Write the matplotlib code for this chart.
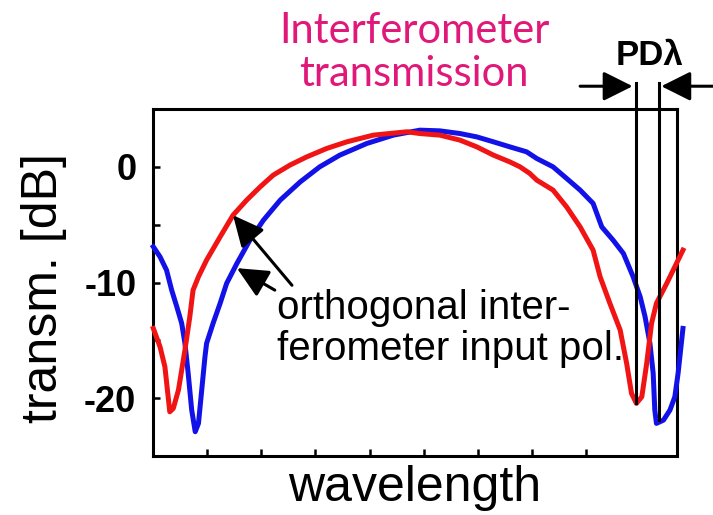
import matplotlib
matplotlib.use("Agg")
import matplotlib.pyplot as plt

# ---------------- data ----------------
blue_x = [0.006, 0.13, 0.25, 0.345, 0.44, 0.53, 0.59, 0.65, 0.715, 0.78, 0.84, 0.90, 0.96,
          0.99, 1.11, 1.24, 1.36, 1.55, 1.79, 2.04, 2.35, 2.72, 3.08, 3.45, 3.95, 4.44,
          4.93, 5.30, 5.67, 5.98, 6.29, 6.59, 6.90, 7.09, 7.39, 7.64, 7.89, 8.13, 8.29,
          8.50, 8.69, 8.87, 9.00, 9.09, 9.18, 9.24, 9.27, 9.30, 9.43, 9.55, 9.64, 9.70,
          9.76, 9.79]
blue_y = [-6.91, -7.78, -8.93, -10.66, -12.1, -13.53, -15.26, -17.86, -21.03, -22.9, -22.18,
          -19.3, -16.42, -15.26, -13.53, -11.8, -10.08, -8.35, -6.34, -4.61, -2.88, -1.3,
          0.0, 1.01, 2.02, 2.74, 3.17, 3.11, 2.88, 2.59, 2.16, 1.73, 1.30, 0.72, 0.0,
          -1.0, -2.01, -3.16, -5.19, -6.34, -7.49, -9.51, -11.24, -12.96, -15.26, -17.86,
          -21.03, -22.18, -21.9, -21.03, -19.88, -17.86, -15.26, -13.97]

red_x = [0.006, 0.13, 0.22, 0.31, 0.375, 0.47, 0.53, 0.59, 0.68, 0.74, 0.84, 0.99, 1.24,
         1.48, 1.73, 1.98, 2.22, 2.53, 2.84, 3.21, 3.58, 4.07, 4.69, 4.93, 5.30, 5.67,
         5.98, 6.29, 6.59, 6.78, 6.96, 7.09, 7.39, 7.64, 7.89, 8.13, 8.26, 8.44, 8.63,
         8.75, 8.84, 8.93, 9.03, 9.12, 9.21, 9.30, 9.49, 9.67, 9.79]
red_y = [-13.97, -15.56, -17.29, -21.18, -20.88, -19.3, -17.57, -15.84, -12.96, -10.66,
         -9.5, -8.06, -6.05, -4.17, -2.88, -1.73, -0.72, 0.15, 0.86, 1.59, 2.16, 2.74,
         3.03, 2.88, 2.74, 2.31, 1.73, 1.01, 0.43, 0.0, -0.57, -1.15, -2.01, -3.46,
         -5.19, -7.2, -9.51, -11.8, -14.11, -17.0, -19.59, -20.45, -19.88, -17.0, -13.53,
         -11.8, -10.08, -8.35, -7.2]

y_ticks = [-20, -15, -10, -5, 0]
y_tick_labels = ["-20", "", "-10", "", "0"]
x_ticks = [1, 2, 3, 4, 5, 6, 7, 8]

pd_x = [8.93, 9.35]          # PD-lambda marker lines
pd_bottom = [-20.4, -21.9]   # where the marker lines end (at the minima)

title_text = "Interferometer\ntransmission"
annot_text = "orthogonal inter-\nferometer input pol."

# ---------------- figure ----------------
W, H = 713, 515
fig = plt.figure(figsize=(W / 100, H / 100), dpi=100)
ax = fig.add_axes([153 / W, 1 - 456 / H, (677 - 153) / W, (456 - 109) / H])

ax.plot(blue_x, blue_y, color="#1212E8", lw=3.6, clip_on=False, solid_joinstyle="round", zorder=3)
ax.plot(red_x, red_y, color="#F01414", lw=3.6, clip_on=False, solid_joinstyle="round", zorder=4)

ax.set_xlim(0, 9.68)
ax.set_ylim(-25, 5)

ax.set_yticks(y_ticks)
ax.set_yticklabels(y_tick_labels, fontfamily="Liberation Sans", fontweight="bold", fontsize=26)
ax.set_xticks(x_ticks)
ax.set_xticklabels([])
ax.tick_params(axis="both", direction="in", length=5, width=1.8, top=False, right=False)
ax.tick_params(axis="y", pad=12)
for s in ax.spines.values():
    s.set_linewidth(2.2)

# PD-lambda marker lines and arrows
top_y = 7.23
for xv, yb in zip(pd_x, pd_bottom):
    ax.plot([xv, xv], [yb, top_y], color="black", lw=2.2, clip_on=False, zorder=5)

arr_y = 6.97
ax.annotate("", xy=(8.86, arr_y), xytext=(7.89, arr_y), annotation_clip=False,
            arrowprops=dict(arrowstyle="-|>,head_length=0.9,head_width=0.45", mutation_scale=20,
                            color="black", lw=2.2, shrinkA=0, shrinkB=0))
ax.annotate("", xy=(9.39, arr_y), xytext=(10.34, arr_y), annotation_clip=False,
            arrowprops=dict(arrowstyle="-|>,head_length=0.9,head_width=0.45", mutation_scale=20,
                            color="black", lw=2.2, shrinkA=0, shrinkB=0))
ax.text(9.18, 9.6, "PDλ", ha="center", va="center", fontsize=25, fontweight="bold",
        fontfamily="Liberation Sans", clip_on=False)

# annotation arrows and text
ax.annotate("", xy=(1.478, -4.18), xytext=(2.567, -10.24),
            arrowprops=dict(arrowstyle="-|>,head_length=0.95,head_width=0.45", mutation_scale=20,
                            color="black", lw=2.2, shrinkA=0, shrinkB=0), zorder=6)
ax.annotate("", xy=(1.55, -8.76), xytext=(2.25, -10.66),
            arrowprops=dict(arrowstyle="-|>,head_length=0.95,head_width=0.45", mutation_scale=20,
                            color="black", lw=2.2, shrinkA=0, shrinkB=0), zorder=6)
ax.text(2.29, -16.71, annot_text, ha="left", va="baseline", fontsize=29,
        fontfamily="Liberation Sans", linespacing=1.1)

# title and axis labels (figure coords)
fig.text(414 / W, 1 - 86 / H, title_text, ha="center", va="baseline", fontsize=30,
         color="#E0187A", fontfamily="Lato", linespacing=1.17, multialignment="center")
fig.text(415 / W, 1 - 501 / H, "wavelength", ha="center", va="baseline", fontsize=36,
         fontfamily="Liberation Sans")
fig.text(44 / W, 1 - 288 / H, "transm. [dB]", ha="center", va="center", rotation=90,
         fontsize=36, fontfamily="Liberation Sans")

fig.savefig("out.png", dpi=100)
